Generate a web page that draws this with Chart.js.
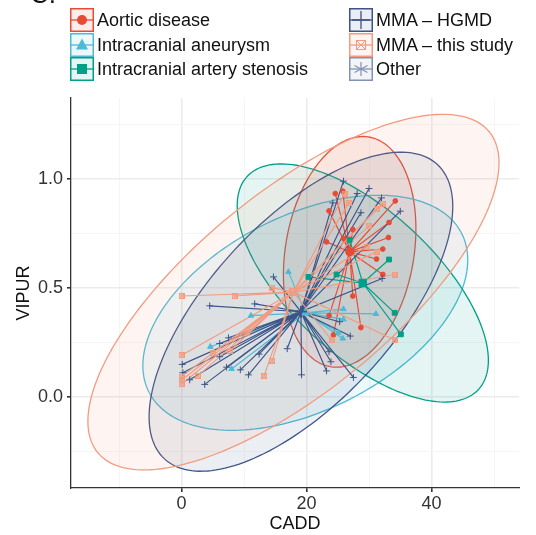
<!DOCTYPE html>
<html>
<head>
<meta charset="utf-8">
<script src="https://cdn.jsdelivr.net/npm/chart.js@4.4.0/dist/chart.umd.min.js"></script>
<style>
body { margin: 0; background: #fff; font-family: 'Liberation Sans', Arial, sans-serif; }
#wrap { position: relative; width: 536px; height: 535px; overflow: hidden; }
#chart { position: absolute; left: 0; top: 0; }
.key { position: absolute; height: 24px; display: flex; align-items: center; font-size: 18px; color: #111; white-space: nowrap; }
.key svg { margin-right: 3px; flex: none; }
#panel { position: absolute; left: 30px; top: -21px; font-size: 26px; color: #111; }
</style>
</head>
<body>
<div id="wrap">
  <canvas id="chart" width="536" height="535"></canvas>
  <div id="panel">C.</div>
  <div id="legend"></div>
</div>
<script>
// groups + colours
const groups = ['Aortic disease', 'Intracranial aneurysm', 'Intracranial artery stenosis', 'MMA – HGMD', 'MMA – this study', 'Other'];
const colors = ['#E64B35', '#4DBBD5', '#00A087', '#3C5488', '#F39B7F', '#8491B4'];

// points [CADD, VIPUR] per group
const aortic = [[24.6, 0.933], [25.8, 0.944], [23.6, 0.853], [34.2, 0.899], [33.2, 0.80], [33.1, 0.731], [32.2, 0.678], [31.2, 0.632],
  [32.2, 0.561], [27.4, 0.462], [28.7, 0.317], [24.3, 0.283], [23.6, 0.372], [27.4, 0.768], [25.9, 0.727], [23.2, 0.711]];
const aneurysm = [[17.1, 0.573], [11.1, 0.372], [4.6, 0.229], [8.0, 0.127], [25.9, 0.402], [25.9, 0.355], [25.8, 0.267], [25.1, 0.294], [31.1, 0.38]];
const stenosis = [[20.3, 0.55], [24.8, 0.561], [26.9, 0.72], [33.2, 0.63], [34.1, 0.385], [35.1, 0.286]];
const hgmd = [[25.9, 0.99], [28.1, 0.933], [30.0, 0.956], [32.0, 0.913], [35.0, 0.852], [28.7, 0.845], [24.2, 0.89], [14.7, 0.55],
  [4.5, 0.417], [11.7, 0.426], [0.1, 0.148], [0.2, 0.11], [1.3, 0.077], [3.7, 0.056], [6.1, 0.244], [7.5, 0.27], [9.4, 0.123],
  [10.7, 0.1], [12.4, 0.195], [7.2, 0.135], [6.1, 0.183], [16.9, 0.22], [19.2, 0.1], [23.2, 0.118], [23.9, 0.16], [23.6, 0.206],
  [27.5, 0.088], [27.0, 0.278], [25.3, 0.344], [32.1, 0.543]];
const thisStudy = [[0, 0.462], [8.5, 0.462], [14.5, 0.5], [0, 0.19], [0, 0.092], [0, 0.075], [0, 0.057], [2.6, 0.095], [5.0, 0.2],
  [7.7, 0.21], [10.4, 0.29], [13.2, 0.096], [14.5, 0.165], [24.0, 0.26], [34.1, 0.26], [34.1, 0.561], [31.2, 0.666], [29.6, 0.688],
  [30.0, 0.783], [31.2, 0.86], [32.2, 0.886], [26.8, 0.89], [26.1, 0.933]];
const other = [];

// group centroids
const centroidCADD = [26.9, 19.8, 29.0, 19.1, 17.9];
const centroidVIPUR = [0.665, 0.385, 0.522, 0.39, 0.48];

// ellipse spread (half range) and correlation
const ellipseCADD = [10.6, 26.0, 20.1, 24.3, 32.9];
const ellipseVIPUR = [0.53, 0.54, 0.547, 0.733, 0.817];
const ellipseCorr = [0.2, 0.45, -0.65, 0.66, 0.727];

// ticks
const xTicks = [-10, 0, 10, 20, 30, 40, 50];
const xLabels = ['', '0', '', '20', '', '40', ''];
const yTicks = [-0.25, 0, 0.25, 0.5, 0.75, 1, 1.25];
const yLabels = ['', '0.0', '', '0.5', '', '1.0', ''];

const allPoints = [aortic, aneurysm, stenosis, hgmd, thisStudy, other];

function rgba(hex, a) {
  const n = parseInt(hex.slice(1), 16);
  return 'rgba(' + (n >> 16) + ',' + ((n >> 8) & 255) + ',' + (n & 255) + ',' + a + ')';
}

function squareX(size, color, lw) {
  const c = document.createElement('canvas');
  c.width = c.height = size;
  const g = c.getContext('2d');
  g.fillStyle = rgba(color, 0.35);
  g.fillRect(0, 0, size, size);
  g.strokeStyle = color;
  g.lineWidth = lw;
  const h = lw / 2;
  g.strokeRect(h, h, size - lw, size - lw);
  g.beginPath();
  g.moveTo(h, h); g.lineTo(size - h, size - h);
  g.moveTo(size - h, h); g.lineTo(h, size - h);
  g.stroke();
  return c;
}

const styles = ['circle', 'triangle', 'rect', 'cross', squareX(6, colors[4], 1), 'star'];
const radii = [2.4, 3.2, 3.4, 3.4, 3, 3];
const bigStyles = ['circle', 'triangle', 'rect', 'cross', squareX(8, colors[4], 1.4), 'star'];
const bigRadii = [4, 4.5, 5.3, 6, 4, 4];

function spokes(pts, cx, cy) {
  const d = [];
  pts.forEach(p => { d.push({ x: cx, y: cy }); d.push({ x: p[0], y: p[1] }); });
  return d;
}

const datasets = [];
let k = 0;
// segments first, then points, then centroids
for (let i = 0; i < 5; i++) {
  datasets.push({
    data: spokes(allPoints[i], centroidCADD[i], centroidVIPUR[i]),
    showLine: true, borderColor: colors[i], borderWidth: 1.15, pointRadius: 0, order: 1000 - k++
  });
}
for (let i = 0; i < 5; i++) {
  datasets.push({
    data: allPoints[i].map(p => ({ x: p[0], y: p[1] })),
    pointStyle: styles[i], pointRadius: radii[i], backgroundColor: colors[i], borderColor: colors[i],
    pointBorderWidth: 1, order: 1000 - k++
  });
}
for (let i = 0; i < 5; i++) {
  datasets.push({
    data: [{ x: centroidCADD[i], y: centroidVIPUR[i] }],
    pointStyle: bigStyles[i], pointRadius: bigRadii[i], backgroundColor: colors[i], borderColor: colors[i],
    pointBorderWidth: i === 3 ? 1.8 : 1, order: 1000 - k++
  });
}

// ellipses behind everything
const ellipsePlugin = {
  id: 'ellipses',
  beforeDatasetsDraw(chart) {
    const { ctx, chartArea, scales: { x, y } } = chart;
    ctx.save();
    ctx.beginPath();
    ctx.rect(chartArea.left, chartArea.top, chartArea.right - chartArea.left, chartArea.bottom - chartArea.top);
    ctx.clip();
    for (let i = 0; i < 5; i++) {
      const r = ellipseCorr[i], s = Math.sqrt(1 - r * r);
      ctx.beginPath();
      for (let j = 0; j <= 180; j++) {
        const t = j / 180 * Math.PI * 2;
        const px = x.getPixelForValue(centroidCADD[i] + ellipseCADD[i] * Math.cos(t));
        const py = y.getPixelForValue(centroidVIPUR[i] + ellipseVIPUR[i] * (r * Math.cos(t) + s * Math.sin(t)));
        if (j === 0) ctx.moveTo(px, py); else ctx.lineTo(px, py);
      }
      ctx.closePath();
      ctx.fillStyle = rgba(colors[i], 0.1);
      ctx.fill();
      ctx.strokeStyle = colors[i];
      ctx.lineWidth = 1.3;
      ctx.stroke();
    }
    ctx.restore();
  }
};

const font = { family: "'Liberation Sans', Arial, sans-serif", size: 18 };

new Chart(document.getElementById('chart'), {
  type: 'scatter',
  data: { datasets: datasets },
  options: {
    responsive: false,
    animation: false,
    layout: { padding: { top: 98, right: 17, left: 0, bottom: 0 } },
    plugins: { legend: { display: false }, tooltip: { enabled: false } },
    scales: {
      x: {
        min: -17.7, max: 54,
        afterBuildTicks: s => { s.ticks = xTicks.map(v => ({ value: v })); },
        afterFit: s => { s.height = 47; },
        ticks: { callback: (v, i) => xLabels[i], font: font, color: '#333', padding: 1, maxRotation: 0, autoSkip: false },
        grid: {
          color: c => xLabels[c.index] ? '#ebebeb' : '#f5f5f5',
          lineWidth: c => xLabels[c.index] ? 1.6 : 1,
          tickColor: c => xLabels[c.index] ? '#333' : 'rgba(0,0,0,0)',
          tickLength: 4
        },
        border: { display: true, color: '#333', width: 1.3 },
        title: { display: true, text: 'CADD', font: font, color: '#111', padding: { top: 0, bottom: 0 } }
      },
      y: {
        min: -0.42, max: 1.372,
        afterBuildTicks: s => { s.ticks = yTicks.map(v => ({ value: v })); },
        afterFit: s => { s.width = 71; },
        ticks: { callback: (v, i) => yLabels[i], font: font, color: '#333', padding: 4, autoSkip: false },
        grid: {
          color: c => yLabels[c.index] ? '#ebebeb' : '#f5f5f5',
          lineWidth: c => yLabels[c.index] ? 1.6 : 1,
          tickColor: c => yLabels[c.index] ? '#333' : 'rgba(0,0,0,0)',
          tickLength: 4
        },
        border: { display: true, color: '#333', width: 1.3 },
        title: { display: true, text: 'VIPUR', font: font, color: '#111', padding: { top: 13, bottom: 0 } }
      }
    }
  },
  plugins: [ellipsePlugin]
});

// legend (two columns of keys)
function keyIcon(i) {
  const c = colors[i];
  let mark = '';
  if (i === 0) mark = '<circle cx="12" cy="12" r="5" fill="' + c + '"/>';
  if (i === 1) mark = '<polygon points="12,5.5 18,16.5 6,16.5" fill="' + c + '"/>';
  if (i === 2) mark = '<rect x="7" y="7" width="10" height="10" fill="' + c + '"/>';
  if (i === 3) mark = '<path d="M12 3V21M3 12H21" stroke="' + c + '" stroke-width="1.3"/>';
  if (i === 4) mark = '<rect x="7.5" y="7.5" width="9" height="9" fill="none" stroke="' + c + '"/><path d="M7.5 7.5L16.5 16.5M16.5 7.5L7.5 16.5" stroke="' + c + '"/>';
  if (i === 5) mark = '<path d="M12 5V19M5.5 8.5L18.5 15.5M18.5 8.5L5.5 15.5" stroke="' + c + '" stroke-width="1.2"/>';
  return '<svg width="24" height="24" viewBox="0 0 24 24">' +
    '<rect x="0.75" y="0.75" width="22.5" height="22.5" fill="' + rgba(c, 0.1) + '" stroke="' + c + '" stroke-width="1.5"/>' +
    '<line x1="1" y1="12" x2="23" y2="12" stroke="' + c + '" stroke-width="1.3"/>' + mark + '</svg>';
}
const legendX = [70, 349];
const legendY = [8, 33, 57];
const legend = document.getElementById('legend');
groups.forEach((g, i) => {
  const d = document.createElement('div');
  d.className = 'key';
  d.style.left = legendX[Math.floor(i / 3)] + 'px';
  d.style.top = legendY[i % 3] + 'px';
  d.innerHTML = keyIcon(i) + '<span>' + g + '</span>';
  legend.appendChild(d);
});
</script>
</body>
</html>
